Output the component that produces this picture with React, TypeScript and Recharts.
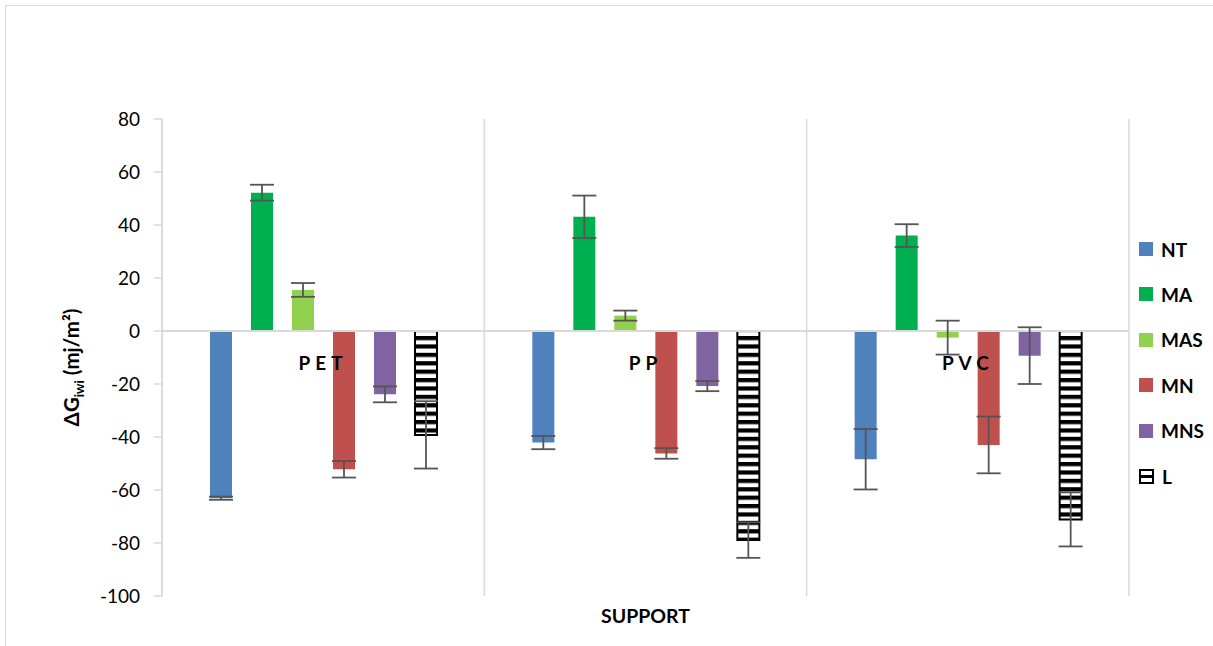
import React from 'react';
import { BarChart, Bar, XAxis, YAxis, ErrorBar, ReferenceLine, ReferenceDot, CartesianGrid } from 'recharts';

const categories = ['PET', 'PP', 'PVC'];
const seriesNames = ['NT', 'MA', 'MAS', 'MN', 'MNS', 'L'];
const seriesColors = ['#4F81BD', '#00B050', '#92D050', '#C0504D', '#8064A2', 'url(#hstripes)'];

const ntValues = [-63.1, -42.1, -48.4];
const ntErrors = [0.6, 2.5, 11.4];
const maValues = [52.2, 43.1, 36.0];
const maErrors = [3.0, 8.0, 4.3];
const masValues = [15.5, 5.8, -2.5];
const masErrors = [2.6, 1.9, 6.4];
const mnValues = [-52.2, -46.2, -43.0];
const mnErrors = [3.1, 2.0, 10.7];
const mnsValues = [-23.9, -20.8, -9.3];
const mnsErrors = [3.0, 1.9, 10.7];
const lValues = [-39.2, -78.9, -71.1];
const lErrors = [12.7, 6.7, 10.2];

const yTicks = [-100, -80, -60, -40, -20, 0, 20, 40, 60, 80];

const valueLists = [ntValues, maValues, masValues, mnValues, mnsValues, lValues];
const errorLists = [ntErrors, maErrors, masErrors, mnErrors, mnsErrors, lErrors];

const data = categories.map((cat, i) => {
  const row: Record<string, any> = { cat };
  seriesNames.forEach((s, k) => {
    row[s] = valueLists[k][i];
    row[s + '_err'] = errorLists[k][i];
  });
  return row;
});

const FONT = 'Lato, "Open Sans", sans-serif';

const CatLabel = (props: any) => (
  <text
    x={props.cx}
    y={props.cy + 39}
    textAnchor="middle"
    fontFamily={FONT}
    fontWeight="bold"
    fontSize={19}
    letterSpacing={5}
    fill="#000"
  >
    {props.payloadLabel}
  </text>
);

const YLabel = (props: any) => {
  const vb = props.viewBox;
  const cx = vb.x + 79;
  const cy = vb.y + vb.height / 2 + 10;
  return (
    <text
      x={cx}
      y={cy}
      transform={`rotate(-90, ${cx}, ${cy})`}
      textAnchor="middle"
      fontFamily={FONT}
      fontWeight="bold"
      fontSize={20.5}
      fill="#000"
    >
      <tspan>ΔG</tspan>
      <tspan fontSize={13} dy={5}>iwi</tspan>
      <tspan dy={-5}> (mj/m²)</tspan>
    </text>
  );
};

const XLabel = (props: any) => {
  const vb = props.viewBox;
  return (
    <text
      x={vb.x + vb.width / 2}
      y={vb.y + 27}
      textAnchor="middle"
      fontFamily={FONT}
      fontWeight="bold"
      fontSize={19.5}
      fill="#000"
    >
      SUPPORT
    </text>
  );
};

const LegendSwatch = ({ idx }: { idx: number }) => {
  if (seriesNames[idx] === 'L') {
    return (
      <svg width={15} height={15} style={{ display: 'block' }}>
        <rect x={1} y={1} width={13} height={13} fill="#fff" stroke="#000" strokeWidth={2} />
        <rect x={1} y={6} width={13} height={3} fill="#000" />
      </svg>
    );
  }
  return <div style={{ width: 14, height: 14, background: seriesColors[idx] }} />;
};

export default function App() {
  return (
    <div style={{ position: 'absolute', left: 0, top: 0, width: 1213, height: 646, background: '#fff', overflow: 'hidden' }}>
      <div
        style={{
          position: 'absolute',
          left: 5,
          top: 5,
          width: 1230,
          height: 660,
          border: '1.5px solid #d9d9d9',
          boxSizing: 'border-box',
        }}
      />
      <div style={{ position: 'absolute', left: 0, top: 0 }}>
        <BarChart
          width={1213}
          height={646}
          data={data}
          margin={{ top: 119, right: 84, bottom: 0, left: 0 }}
          barSize={22}
          barGap={19}
        >
          <defs>
            <pattern id="hstripes" patternUnits="userSpaceOnUse" width={8} height={8.4}>
              <rect x={0} y={0} width={8} height={8.4} fill="#fff" />
              <rect x={0} y={0} width={8} height={4.2} fill="#000" />
            </pattern>
          </defs>
          <CartesianGrid
            horizontal={false}
            stroke="#d9d9d9"
            strokeWidth={1.5}
            verticalCoordinatesGenerator={({ offset }: any) =>
              [0, 1, 2, 3].map((i) => offset.left + (i * offset.width) / categories.length)
            }
          />
          <XAxis
            dataKey="cat"
            height={50}
            tick={false}
            axisLine={false}
            tickLine={false}
            label={<XLabel />}
          />
          <YAxis
            width={162}
            domain={[-100, 80]}
            ticks={yTicks}
            interval={0}
            allowDataOverflow
            tickSize={8}
            tickMargin={14}
            axisLine={{ stroke: '#d9d9d9', strokeWidth: 1.5 }}
            tickLine={{ stroke: '#d9d9d9', strokeWidth: 1.5 }}
            tick={{ fill: '#000', fontFamily: FONT, fontSize: 19 }}
            label={<YLabel />}
          />
          <ReferenceLine y={0} stroke="#d9d9d9" strokeWidth={2} />
          {seriesNames.map((s, k) => (
            <Bar
              key={s}
              dataKey={s}
              fill={seriesColors[k]}
              stroke={s === 'L' ? '#000' : undefined}
              strokeWidth={s === 'L' ? 2 : 0}
              isAnimationActive={false}
            >
              <ErrorBar dataKey={s + '_err'} width={12} stroke="#555555" strokeWidth={1.8} direction="y" />
            </Bar>
          ))}
          {categories.map((c) => (
            <ReferenceDot
              key={c}
              x={c}
              y={0}
              r={0}
              shape={(p: any) => <CatLabel {...p} payloadLabel={c} />}
            />
          ))}
        </BarChart>
      </div>
      {seriesNames.map((s, i) => (
        <div
          key={s}
          style={{
            position: 'absolute',
            left: 1139,
            top: 238 + i * 45.4,
            height: 22,
            display: 'flex',
            alignItems: 'center',
            gap: 8,
            fontFamily: FONT,
            fontWeight: 'bold',
            fontSize: 19,
            color: '#000',
          }}
        >
          <LegendSwatch idx={i} />
          <span>{s}</span>
        </div>
      ))}
    </div>
  );
}
